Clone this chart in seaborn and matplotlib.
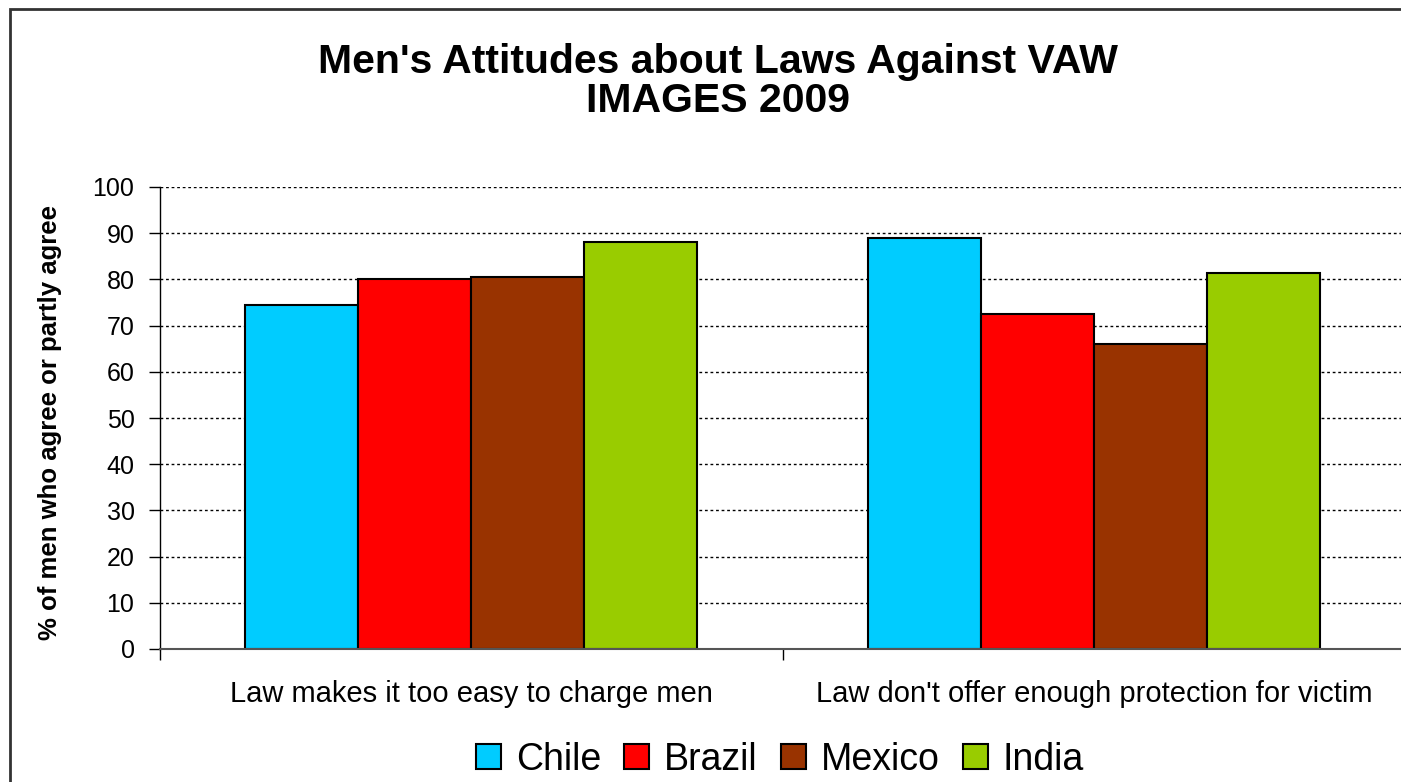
import matplotlib
matplotlib.use("Agg")
import matplotlib.pyplot as plt
import seaborn as sns
import pandas as pd
from matplotlib.patches import Rectangle, Patch

categories = ["Law makes it too easy to charge men", "Law don't offer enough protection for victim"]
countries = ["Chile", "Brazil", "Mexico", "India"]
chile = [74.5, 89.0]
brazil = [80.1, 72.5]
mexico = [80.5, 66.0]
india = [88.1, 81.4]
colors = ["#00CCFF", "#FF0000", "#993300", "#99CC00"]
yticks = [0, 10, 20, 30, 40, 50, 60, 70, 80, 90, 100]

rows = []
for name, vals in zip(countries, [chile, brazil, mexico, india]):
    for c, v in zip(categories, vals):
        rows.append({"Category": c, "Country": name, "Value": v})
df = pd.DataFrame(rows)

sns.set_theme(style="white")
plt.rcParams['font.family'] = ['Liberation Sans', 'DejaVu Sans']
plt.rcParams['text.color'] = 'black'
plt.rcParams['xtick.color'] = 'black'
plt.rcParams['ytick.color'] = 'black'
plt.rcParams['xtick.labelcolor'] = 'black'
plt.rcParams['ytick.labelcolor'] = 'black'

W, H = 1401, 782
fig = plt.figure(figsize=(W / 100, H / 100), dpi=100)
ax = fig.add_axes([159.5 / W, (H - 649) / H, (1405.5 - 159.5) / W, 462 / H])

sns.barplot(data=df, x="Category", y="Value", hue="Country", order=categories,
            hue_order=countries, palette=colors, width=0.727, gap=0,
            edgecolor="black", linewidth=1.5, saturation=1, ax=ax, legend=False)

ax.set_xlim(-0.5, 1.5)
ax.set_ylim(0, 100)
ax.set_yticks(yticks)
ax.set_yticklabels([str(t) for t in yticks], fontsize=18, color="black")
ax.yaxis.grid(True, color="black", linestyle=(0, (2, 2)), linewidth=1)
ax.set_axisbelow(True)
ax.tick_params(axis="y", direction="out", length=8, width=1, color="black", left=True, pad=10)
ax.set_xticks([0, 1])
ax.set_xticklabels(categories, fontsize=21, color="black")
ax.tick_params(axis="x", length=0, pad=22)
ax.set_xticks([-0.5, 0.5, 1.5], minor=True)
ax.tick_params(axis="x", which="minor", direction="out", length=8, width=1, color="black", bottom=True)
ax.set_xlabel("")
ax.set_ylabel("")
for s in ["top", "right"]:
    ax.spines[s].set_visible(False)
ax.spines["left"].set_color("black")
ax.spines["left"].set_linewidth(1)
ax.spines["bottom"].set_color("#555555")
ax.spines["bottom"].set_linewidth(1.5)

fig.text(50 / W, 1 - 423 / H, "% of men who agree or partly agree", rotation=90,
         fontsize=18.5, fontweight="bold", ha="center", va="center", color="black")
fig.text(718 / W, 1 - 62 / H, "Men's Attitudes about Laws Against VAW",
         fontsize=29.5, fontweight="bold", ha="center", va="center", color="black")
fig.text(718 / W, 1 - 101 / H, "IMAGES 2009",
         fontsize=29.5, fontweight="bold", ha="center", va="center", color="black")

handles = [Patch(facecolor=c, edgecolor="black", linewidth=1.5) for c in colors]
fig.legend(handles, countries, loc="center", bbox_to_anchor=(780 / W, 1 - 760 / H),
           ncol=4, frameon=False, fontsize=27, handlelength=0.667, handleheight=0.64,
           handletextpad=0.4, columnspacing=0.61, labelcolor="black")

fig.patches.append(Rectangle((10 / W, -0.1), 1.2, 1 - 9 / H + 0.1, transform=fig.transFigure,
                             fill=False, edgecolor="#333333", linewidth=2))

fig.savefig("out.png", dpi=100)
